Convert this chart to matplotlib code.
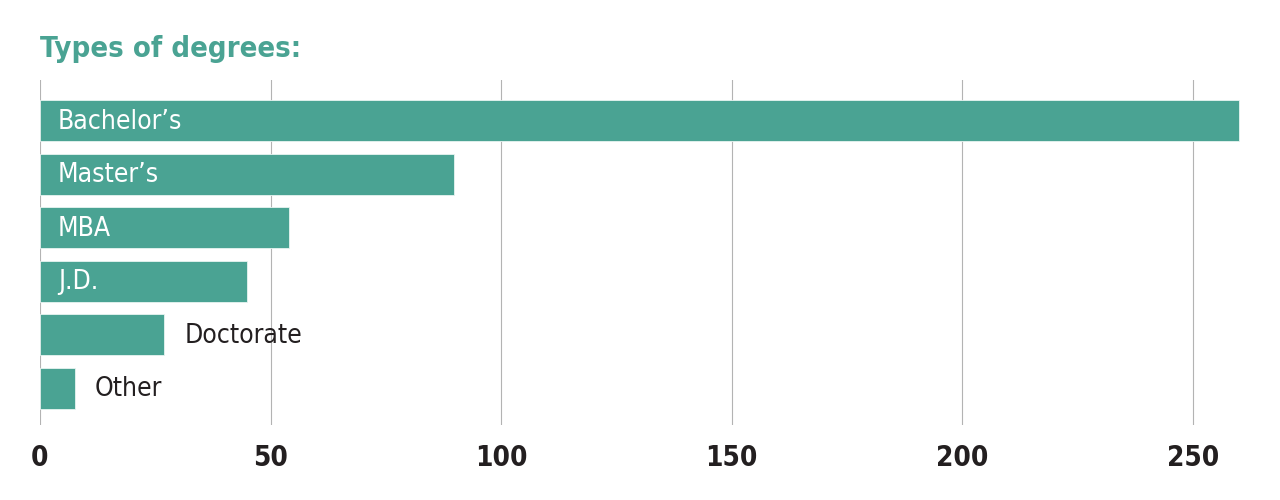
import matplotlib
matplotlib.use("Agg")
import matplotlib.pyplot as plt

categories = ["Bachelor’s", "Master’s", "MBA", "J.D.", "Doctorate", "Other"]
values = [260, 89.7, 54, 44.8, 27, 7.5]
inside = [True, True, True, True, False, False]
xticks = [0, 50, 100, 150, 200, 250]
title = "Types of degrees:"

plt.rcParams["font.family"] = ["DejaVu Sans"]
plt.rcParams["font.stretch"] = "condensed"

teal = "#4aa393"
dark = "#231f20"

fig = plt.figure(figsize=(12.8, 5), dpi=100)
ax = fig.add_axes([40/1280, 75/500, (1248-40)/1280, (420-75)/500])

ypos = list(range(len(categories)))
ax.barh(ypos, values, height=0.766, color=teal, edgecolor="#e8f4f1", linewidth=0.6, zorder=2)

for y, v, c, ins in zip(ypos, values, categories, inside):
    if ins:
        ax.annotate(c, xy=(0, y), xytext=(18, -1), textcoords="offset pixels",
                    ha="left", va="center", color="white", fontsize=19, fontstretch="condensed")
    else:
        ax.annotate(c, xy=(v, y), xytext=(20, -1), textcoords="offset pixels",
                    ha="left", va="center", color=dark, fontsize=19, fontstretch="condensed")

ax.set_xlim(0, 262)
ax.set_ylim(5.69, -0.757)
ax.set_xticks(xticks)
ax.set_xticklabels([str(t) for t in xticks], fontsize=20, fontweight="bold",
                   color=dark, fontstretch="condensed")
ax.set_yticks([])
ax.tick_params(axis="x", length=0, pad=14)
ax.grid(axis="x", color="#b3b3b3", linewidth=0.8, zorder=0)
for s in ax.spines.values():
    s.set_visible(False)
ax.axvline(0, color="#c4c4c4", linewidth=1.4, zorder=1)

fig.text(40/1280, 1 - 49/500, title, color=teal, fontsize=21, fontweight="bold",
         fontstretch="condensed", ha="left", va="center")

fig.savefig("out.png", dpi=100)
